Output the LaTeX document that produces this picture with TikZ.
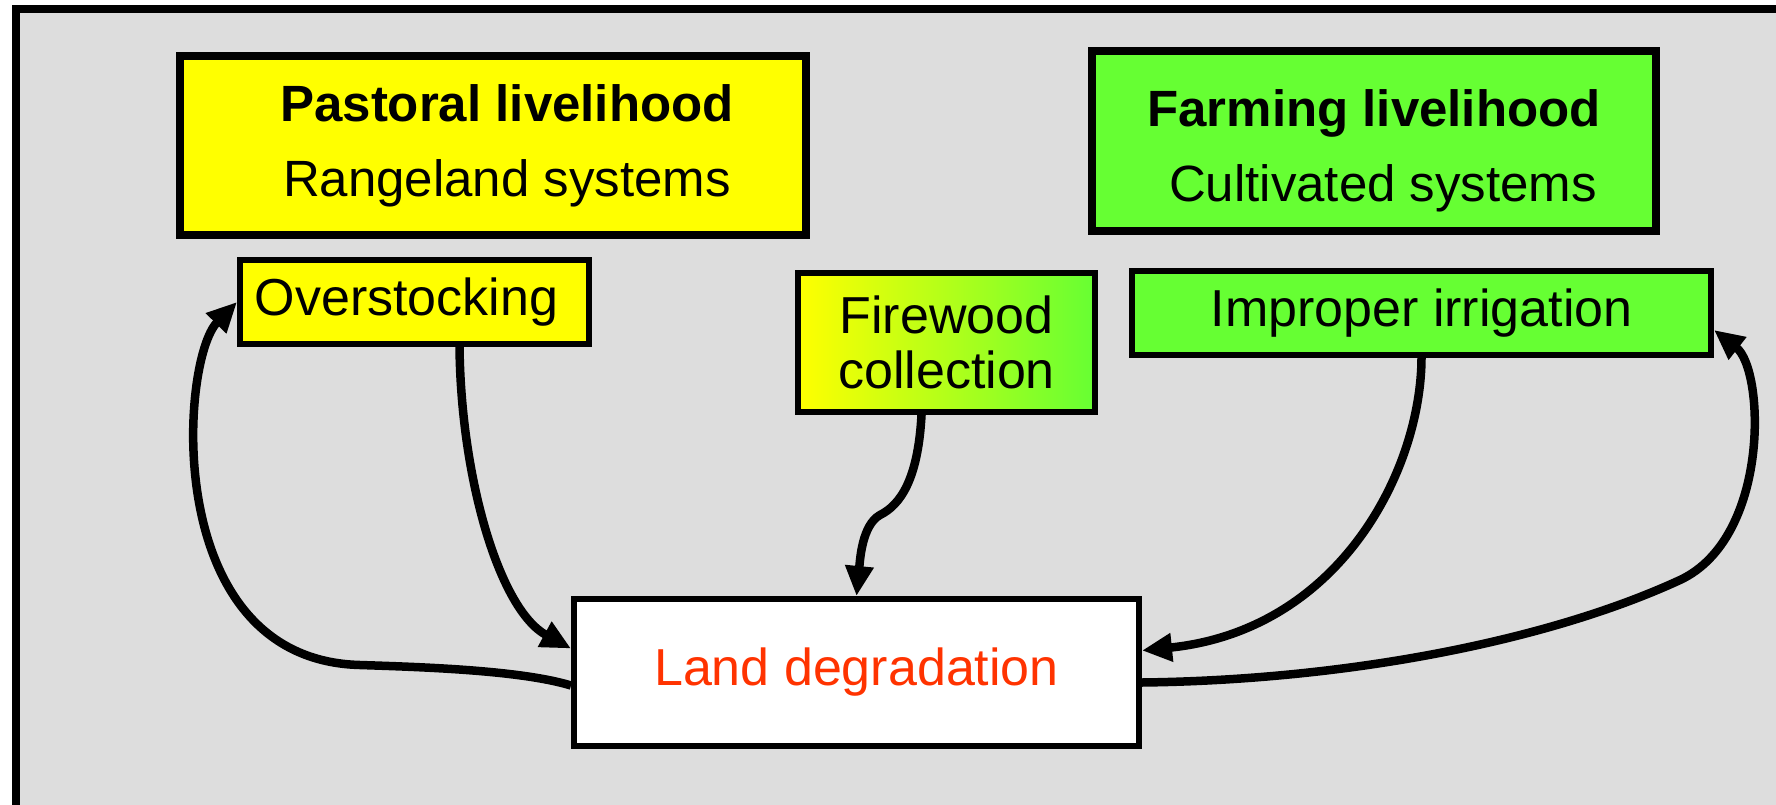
\documentclass[tikz,border=0pt]{standalone}
\usepackage{fontspec}
\setmainfont{Liberation Sans}
\usetikzlibrary{arrows.meta}
\definecolor{bggray}{HTML}{DDDDDD}
\definecolor{pastyellow}{HTML}{FFFF00}
\definecolor{farmgreen}{HTML}{66FF33}
\definecolor{degred}{HTML}{FF3300}
\begin{document}
\begin{tikzpicture}[x=1pt,y=-1pt,
  box/.style={draw,line width=6pt,inner sep=0pt,align=center,font=\fontsize{52}{55}\selectfont},
  bigbox/.style={box,line width=8pt,font=\fontsize{51}{75}\selectfont},
  link/.style={line width=8.5pt,-{Triangle[length=30pt,width=27pt]}}]
\useasboundingbox (0,0) rectangle (1776,805);
\fill[bggray] (16,9) rectangle (1776,805);
\draw[line width=8pt] (16,805) -- (16,9) -- (1776,9);
% livelihoods
\node[bigbox,fill=pastyellow,minimum width=626pt,minimum height=179pt] (pastoral) at (493,145.5) {\hspace*{28pt}\textbf{Pastoral livelihood}\\\hspace*{28pt}Rangeland systems};
\node[bigbox,fill=farmgreen,minimum width=564pt,minimum height=180pt] (farming) at (1374,141) {\rule{0pt}{56pt}\textbf{Farming livelihood}\\\hspace*{18pt}Cultivated systems};
% causes
\node[box,fill=pastyellow,minimum width=349pt,minimum height=84pt] (over) at (414.5,302) {Overstocking\hspace*{16pt}};
\node[box,left color=pastyellow,right color=farmgreen,minimum width=297pt,minimum height=139pt] (fire) at (946.5,342.5) {Firewood\\collection};
\node[box,fill=farmgreen,minimum width=579pt,minimum height=84pt] (irr) at (1421.5,313) {Improper irrigation};
\node[box,fill=white,text=degred,minimum width=565pt,minimum height=147pt] (land) at (856.5,672.5) {Land degradation};
% links
\draw[link] ([xshift=45pt]over.south) .. controls (461,480) and (500,610) .. ([yshift=24pt]land.west);
\draw[link] ([yshift=-13pt]land.west) .. controls (520,670) and (420,667) .. (360,665) .. controls (160,660) and (180,360) .. (over.west);
\draw[link] ([xshift=-25pt]fire.south) .. controls (918,480) and (900,505) .. (880,515) .. controls (862,525) and (860,560) .. (land.north);
\draw[link] (irr.south) .. controls (1421,470) and (1340,630) .. ([yshift=22pt]land.east);
\draw[link] ([yshift=-10pt]land.east) .. controls (1350,680) and (1550,640) .. (1680,580) .. controls (1770,538) and (1765,370) .. ([yshift=-17pt]irr.east);
\end{tikzpicture}
\end{document}
